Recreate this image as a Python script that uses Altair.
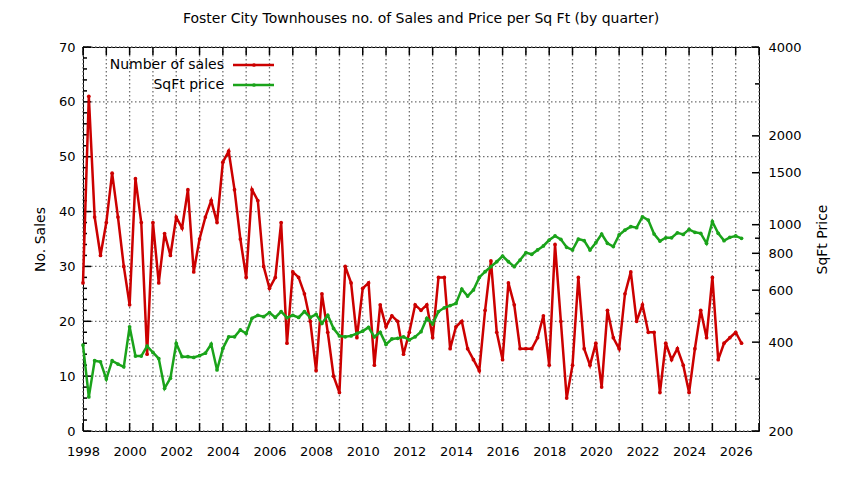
import altair as alt
import pandas as pd

# ---------------- data ----------------
start_year = 1998
sales = [27, 61, 39, 32, 38, 47, 39, 30, 23, 46,
         38, 14, 38, 27, 36, 32, 39, 37, 44, 29,
         35, 39, 42, 38, 49, 51, 44, 35, 28, 44,
         42, 30, 26, 28, 38, 16, 29, 28, 25, 20,
         11, 25, 18, 10, 7, 30, 27, 17, 26, 27,
         12, 23, 19, 21, 20, 14, 18, 23, 22, 23,
         17, 28, 28, 15, 19, 20, 15, 13, 11, 22,
         31, 18, 13, 27, 23, 15, 15, 15, 17, 21,
         12, 34, 20, 6, 12, 28, 15, 12, 16, 8,
         22, 17, 15, 25, 29, 20, 23, 18, 18, 7,
         16, 13, 15, 12, 7, 15, 22, 17, 28, 13,
         16, 17, 18, 16]
price = [391, 261, 346, 343, 300, 346, 337, 330, 451, 359,
         359, 388, 369, 352, 279, 302, 396, 357, 357, 355,
         360, 367, 394, 322, 381, 417, 417, 440, 428, 482,
         493, 488, 504, 485, 508, 484, 493, 485, 508, 485,
         497, 463, 493, 445, 420, 417, 420, 428, 436, 449,
         417, 432, 393, 410, 412, 417, 407, 417, 434, 482,
         461, 508, 523, 532, 541, 605, 573, 601, 663, 693,
         721, 749, 783, 749, 721, 759, 804, 794, 821, 847,
         887, 916, 892, 838, 821, 894, 883, 821, 869, 930,
         865, 843, 923, 959, 985, 977, 1064, 1037, 930, 880,
         903, 903, 939, 927, 964, 942, 935, 865, 1024, 935,
         883, 906, 916, 899]
quarters = [start_year + i * 0.25 for i in range(len(sales))]

year_ticks = list(range(1998, 2028))
left_major = list(range(0, 71, 10))
left_minor = [v for v in range(0, 71, 2) if v % 10]
right_labels = [200, 400, 600, 800, 1000, 1500, 2000, 4000]
right_minor = [300, 500, 700, 900, 3000]
legend_labels = ["Number of sales", "SqFt price"]
title_text = "Foster City Townhouses no. of Sales and Price per Sq Ft (by quarter)"

# ---------------- style ----------------
W, H = 676, 384
RED = "#cc0000"
GREEN = "#1aa31a"
FONT = "DejaVu Sans"
GRID = "#707070"

df = pd.DataFrame({"t": quarters, "sales": sales, "price": price})

xscale = alt.Scale(domain=[1998, 2027], nice=False, zero=False)
lscale = alt.Scale(domain=[0, 70], nice=False, zero=False)
rscale = alt.Scale(type="log", domain=[200, 4000], nice=False)

x_axis = alt.Axis(values=year_ticks,
                  labelExpr="datum.value % 2 == 0 ? format(datum.value, 'd') : ''",
                  grid=False, ticks=False, labelPadding=14,
                  labelFlush=False, labelOverlap=False, title=None,
                  labelFontSize=13, labelFont=FONT, labelColor="black", domain=False)

left_axis = alt.Axis(values=left_major, grid=False, ticks=False, labelPadding=8,
                     labelFontSize=13, labelFont=FONT, labelColor="black", domain=False,
                     title="No. Sales", titleX=-43, titleY=H / 2, titleAngle=270,
                     titleAlign="center", titleBaseline="middle", titleFontSize=14,
                     titleFont=FONT, titleFontWeight="normal", titleColor="black")

right_axis = alt.Axis(values=right_labels, orient="right", grid=False, ticks=False,
                      labelPadding=9, domain=False,
                      format="d", labelFontSize=13, labelFont=FONT, labelColor="black",
                      title="SqFt Price", titleX=63, titleY=H / 2, titleAngle=270,
                      titleAlign="center", titleBaseline="middle", titleFontSize=14,
                      titleFont=FONT, titleFontWeight="normal", titleColor="black")

# grid and tick tables (positions come from the scales)
xt = pd.DataFrame({"yr": year_ticks})
lg = pd.DataFrame({"lv": left_major})
lm = pd.DataFrame({"lv": left_minor})
rg = pd.DataFrame({"rv": right_labels})
rm = pd.DataFrame({"rv": right_minor})

x_grid = alt.Chart(xt).mark_rule(stroke=GRID, strokeWidth=1.3, strokeDash=[1.5, 2.5],
                                 strokeOpacity=1).encode(
    x=alt.X("yr:Q", scale=xscale, axis=None), y=alt.value(0), y2=alt.value(H))
y_grid = alt.Chart(lg).mark_rule(stroke=GRID, strokeWidth=1.3, strokeDash=[1.5, 2.5],
                                 strokeOpacity=1).encode(
    y=alt.Y("lv:Q", scale=lscale, axis=None), x=alt.value(0), x2=alt.value(W))

x_ticks_bottom = alt.Chart(xt).mark_rule(stroke="black", strokeWidth=1.5, strokeOpacity=1).encode(
    x=alt.X("yr:Q", scale=xscale, axis=None), y=alt.value(H), y2=alt.value(H - 8))
x_ticks_top = alt.Chart(xt).mark_rule(stroke="black", strokeWidth=1.5, strokeOpacity=1).encode(
    x=alt.X("yr:Q", scale=xscale, axis=None), y=alt.value(0), y2=alt.value(8))
lmaj = alt.Chart(lg).mark_rule(stroke="black", strokeWidth=1.5, strokeOpacity=1).encode(
    y=alt.Y("lv:Q", scale=lscale, axis=None), x=alt.value(0), x2=alt.value(8))
lmin = alt.Chart(lm).mark_rule(stroke="black", strokeWidth=1.5, strokeOpacity=1).encode(
    y=alt.Y("lv:Q", scale=lscale, axis=None), x=alt.value(0), x2=alt.value(4))
rmaj = alt.Chart(rg).mark_rule(stroke="black", strokeWidth=1.5, strokeOpacity=1).encode(
    y=alt.Y("rv:Q", scale=rscale, axis=None), x=alt.value(W), x2=alt.value(W - 7))
rmin = alt.Chart(rm).mark_rule(stroke="black", strokeWidth=1.5, strokeOpacity=1).encode(
    y=alt.Y("rv:Q", scale=rscale, axis=None), x=alt.value(W), x2=alt.value(W - 4))

base = alt.Chart(df)
sales_line = base.mark_line(color=RED, strokeWidth=2.5,
                            point=alt.OverlayMarkDef(filled=True, size=14, color=RED)).encode(
    x=alt.X("t:Q", scale=xscale, axis=x_axis),
    y=alt.Y("sales:Q", scale=lscale, axis=left_axis),
)
price_line = base.mark_line(color=GREEN, strokeWidth=2.5,
                            point=alt.OverlayMarkDef(filled=True, size=14, color=GREEN)).encode(
    x=alt.X("t:Q", scale=xscale, axis=None),
    y=alt.Y("price:Q", scale=rscale, axis=right_axis),
)

left_layer = alt.layer(x_grid, y_grid, lmaj, lmin, sales_line).resolve_axis(
    x="independent", y="independent")
right_layer = alt.layer(rmaj, rmin, price_line).resolve_axis(x="independent", y="independent")

# legend (gnuplot style: text on the left, sample on the right)
leg_items = []
for i, (lab, col) in enumerate(zip(legend_labels, [RED, GREEN])):
    yy = 18 + 20 * i
    one = pd.DataFrame({"label": [lab]})
    leg_items.append(alt.Chart(one).mark_text(align="right", baseline="middle", fontSize=14,
                                              font=FONT, color="black").encode(
        text="label:N", x=alt.value(141), y=alt.value(yy)))
    leg_items.append(alt.Chart(one).mark_rule(color=col, strokeWidth=2.5).encode(
        x=alt.value(150), x2=alt.value(191), y=alt.value(yy)))
    leg_items.append(alt.Chart(one).mark_point(filled=True, size=14, color=col, opacity=1).encode(
        x=alt.value(171), y=alt.value(yy)))

chart = alt.layer(left_layer, right_layer, x_ticks_bottom, x_ticks_top, *leg_items).resolve_scale(
    y="independent"
).resolve_axis(x="independent", y="independent").properties(
    width=W, height=H,
    padding={"left": 75, "top": 39, "right": 77, "bottom": 41},
    autosize=alt.AutoSizeParams(type="none"),
    title=alt.TitleParams(text=title_text, fontSize=14, font=FONT, fontWeight="normal",
                          color="black", anchor="middle", frame="group", offset=15),
).configure_view(stroke="black", strokeWidth=1)

chart.save("out.html", embed_options={"renderer": "svg", "actions": False})
